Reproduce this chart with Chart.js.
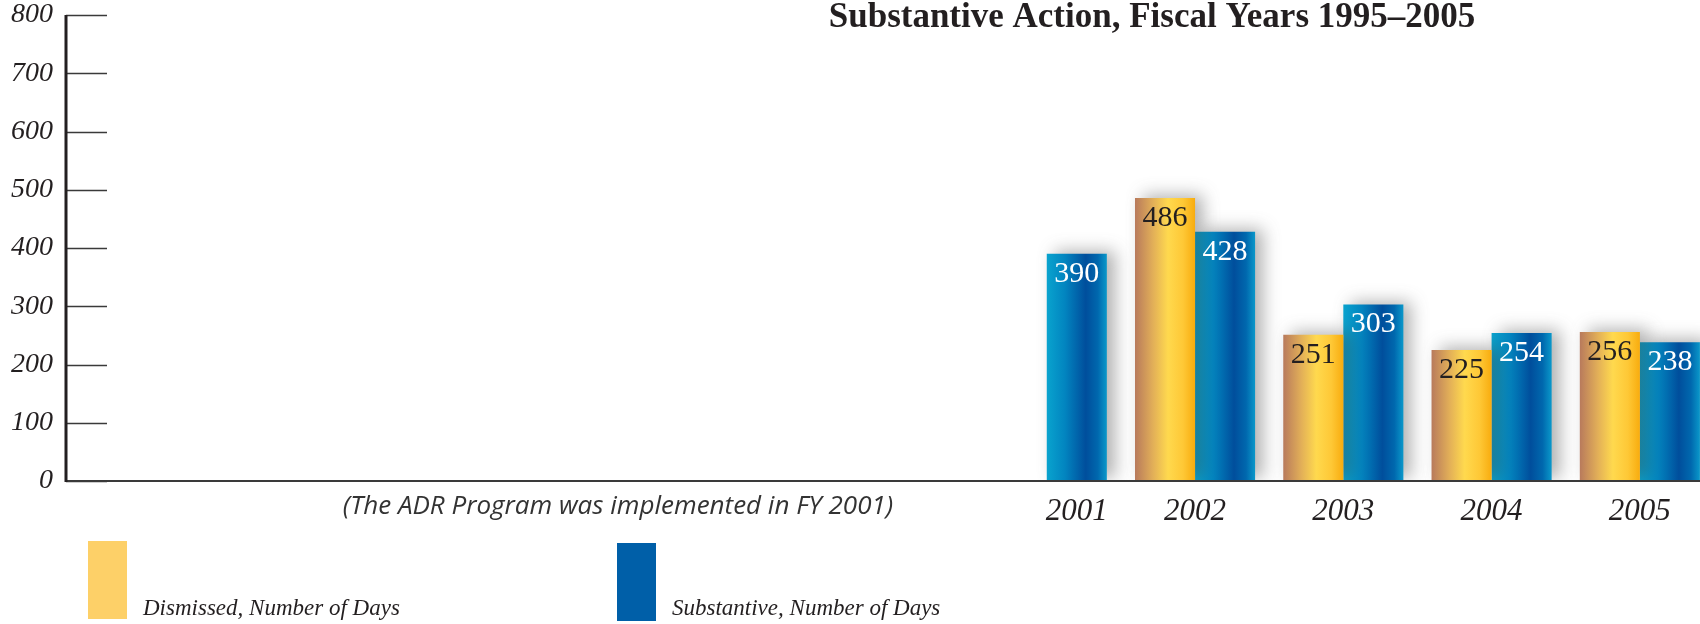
<!DOCTYPE html>
<html lang="en">
<head>
<meta charset="UTF-8" />
<title>Substantive Action, Fiscal Years 1995–2005</title>
<script src="https://cdn.jsdelivr.net/npm/chart.js"></script>
<style>
  html, body { margin: 0; padding: 0; background: #fff; overflow: hidden; }
  .wrap { width: 1714px; height: 624px; }
</style>
</head>
<body>
<div class="wrap"><canvas id="chart" width="1714" height="624"></canvas></div>
<script>
  // data
  const years = ['1995', '1996', '1997', '1998', '1999', '2000', '2001', '2002', '2003', '2004', '2005'];
  const dismissed = [null, null, null, null, null, null, null, 486, 251, 225, 256];
  const substantive = [null, null, null, null, null, null, 390, 428, 303, 254, 238];
  const seriesNames = ['Dismissed, Number of Days', 'Substantive, Number of Days'];
  const chartTitle = 'Substantive Action, Fiscal Years 1995–2005';
  const note = '(The ADR Program was implemented in FY 2001)';

  // colours
  const legendColors = ['#FDD068', '#005FA8'];
  const valueColors = ['#231F20', '#FFFFFF'];
  const gradients = [
    [[0, '#B87A5C'], [0.3, '#E2AF58'], [0.55, '#FFD94E'], [0.8, '#FEC836'], [1, '#F8AC0E']],
    [[0, '#09A3CE'], [0.3, '#0285C0'], [0.65, '#004E9C'], [0.85, '#0068AE'], [1, '#0A98CA']]
  ];
  const ink = '#231F20';
  const axisGap = 17; // the y axis line sits a little left of the first category

  // gradient fill + soft shadow on the bars
  const barLook = {
    id: 'barLook',
    beforeDatasetsDraw(chart) {
      const ctx = chart.ctx;
      chart.data.datasets.forEach((ds, i) => {
        chart.getDatasetMeta(i).data.forEach(bar => {
          const left = bar.x - bar.width / 2;
          const g = ctx.createLinearGradient(left, 0, left + bar.width, 0);
          gradients[i].forEach(([o, c]) => g.addColorStop(o, c));
          bar.options = Object.assign({}, bar.options, { backgroundColor: g });
        });
      });
      ctx.save();
      ctx.shadowColor = 'rgba(60,60,60,0.4)';
      ctx.shadowBlur = 16;
      ctx.shadowOffsetX = 8;
      ctx.shadowOffsetY = -3;
    },
    afterDatasetsDraw(chart) {
      chart.ctx.restore();
    }
  };

  // axes, ticks, value labels, year labels, title, note, legend
  const extras = {
    id: 'extras',
    afterDraw(chart) {
      const ctx = chart.ctx;
      const area = chart.chartArea;
      const y = chart.scales.y;
      const axisX = area.left - axisGap;
      const y0 = y.getPixelForValue(0);
      ctx.save();

      // x axis line
      ctx.strokeStyle = '#3a3a3a';
      ctx.lineWidth = 2;
      ctx.beginPath();
      ctx.moveTo(axisX, y0);
      ctx.lineTo(chart.width, y0);
      ctx.stroke();

      // short tick lines inside the plot
      ctx.lineWidth = 1.5;
      y.ticks.forEach(t => {
        const py = Math.round(y.getPixelForValue(t.value)) + 0.5;
        ctx.beginPath();
        ctx.moveTo(axisX, py);
        ctx.lineTo(axisX + 41, py);
        ctx.stroke();
      });

      // y axis line
      ctx.strokeStyle = ink;
      ctx.lineWidth = 3;
      ctx.beginPath();
      ctx.moveTo(axisX, y.getPixelForValue(y.max));
      ctx.lineTo(axisX, y0 + 1);
      ctx.stroke();

      // values inside bar tops
      ctx.font = '30px "Liberation Serif", serif';
      ctx.textAlign = 'center';
      ctx.textBaseline = 'middle';
      chart.data.datasets.forEach((ds, i) => {
        chart.getDatasetMeta(i).data.forEach((bar, j) => {
          if (ds.data[j] == null) return;
          ctx.fillStyle = valueColors[i];
          ctx.fillText(String(ds.data[j]), bar.x, bar.y + 20);
        });
      });

      // year labels under the bars that exist
      ctx.font = 'italic 31px "Liberation Serif", serif';
      ctx.fillStyle = ink;
      chart.data.labels.forEach((lab, j) => {
        const xs = [];
        chart.data.datasets.forEach((ds, i) => {
          if (ds.data[j] != null) xs.push(chart.getDatasetMeta(i).data[j].x);
        });
        if (!xs.length) return;
        const cx = xs.reduce((a, b) => a + b, 0) / xs.length;
        ctx.fillText(lab, cx, y0 + 31);
      });

      // note over the empty years
      ctx.font = 'italic 26px "Open Sans", sans-serif';
      ctx.fillStyle = '#333';
      ctx.fillText(note, 618, y0 + 26);

      // title
      ctx.font = 'bold 35px "Liberation Serif", serif';
      ctx.fillStyle = ink;
      ctx.fillText(chartTitle, 1152, 18);

      // legend
      const legendX = [88, 617];
      ctx.textAlign = 'left';
      ctx.textBaseline = 'alphabetic';
      ctx.font = 'italic 23px "Liberation Serif", serif';
      chart.data.datasets.forEach((ds, i) => {
        ctx.fillStyle = legendColors[i];
        ctx.fillRect(legendX[i], 541 + i * 2, 39, 78);
        ctx.fillStyle = ink;
        ctx.fillText(ds.label, legendX[i] + 55, 615);
      });
      ctx.restore();
    }
  };

  new Chart(document.getElementById('chart'), {
    type: 'bar',
    data: {
      labels: years,
      datasets: [
        { label: seriesNames[0], data: dismissed, backgroundColor: legendColors[0] },
        { label: seriesNames[1], data: substantive, backgroundColor: legendColors[1] }
      ]
    },
    options: {
      responsive: false,
      animation: false,
      devicePixelRatio: 1,
      layout: { padding: { top: 15, right: 0, bottom: 0, left: 0 } },
      datasets: { bar: { categoryPercentage: 0.81, barPercentage: 1.0 } },
      plugins: { legend: { display: false }, tooltip: { enabled: false } },
      scales: {
        x: {
          grid: { display: false },
          border: { display: false },
          ticks: { display: false },
          afterFit(s) {
            s.height = 143;
            s.paddingLeft = 0; s.paddingRight = 0;
          }
        },
        y: {
          min: 0,
          max: 800,
          grid: { display: false, drawTicks: false },
          border: { display: false },
          ticks: {
            stepSize: 100,
            padding: 13 + axisGap,
            color: ink,
            font: { family: '"Liberation Serif", serif', style: 'italic', size: 28 }
          },
          afterFit(s) {
            s.width = 66 + axisGap;
            s.paddingTop = 0; s.paddingBottom = 0;
          }
        }
      }
    },
    plugins: [barLook, extras]
  });
</script>
</body>
</html>
